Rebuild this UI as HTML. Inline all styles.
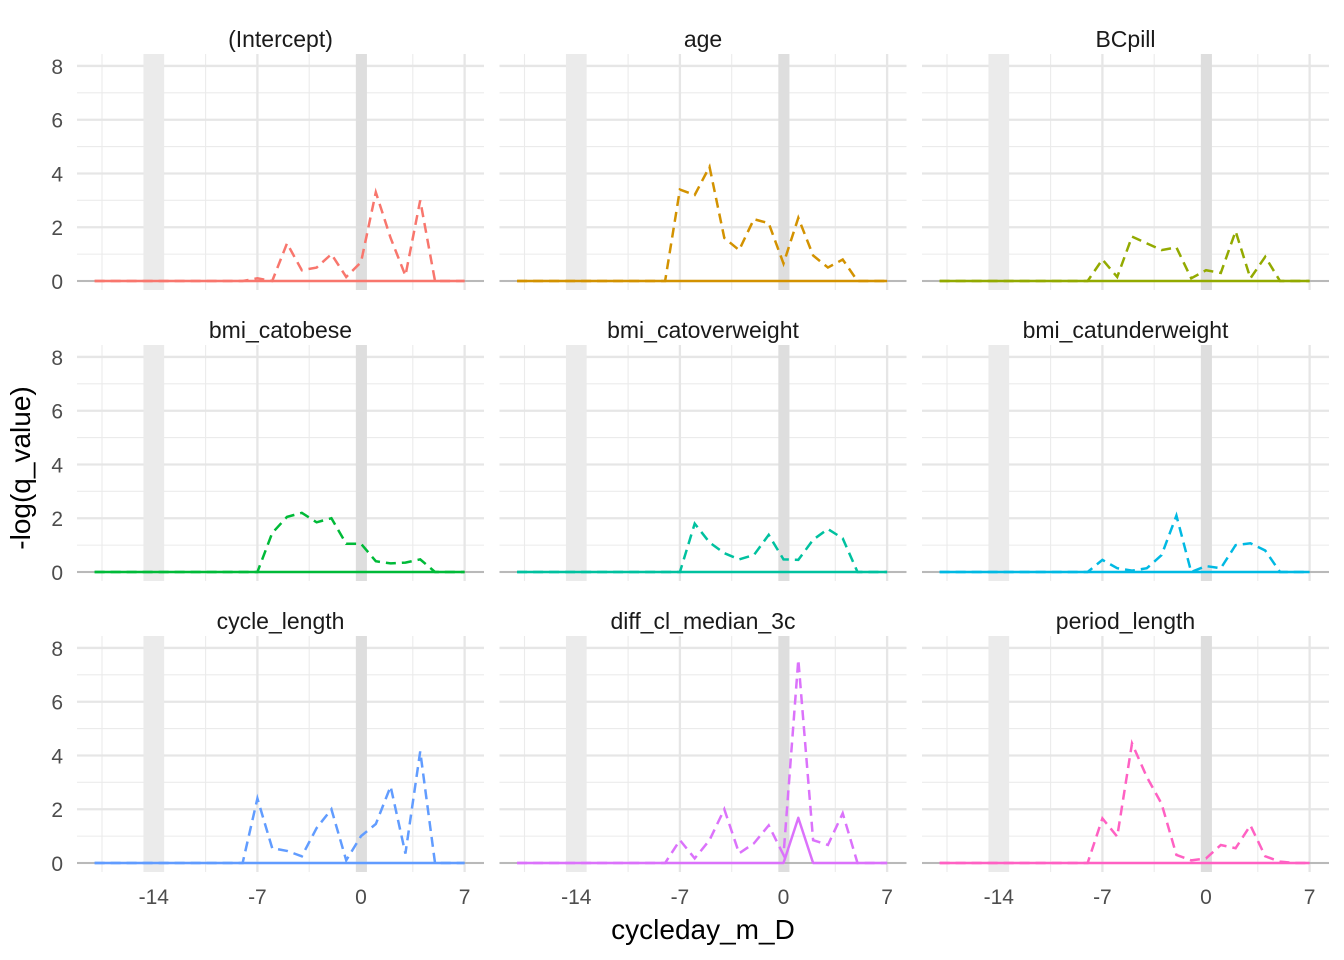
<!DOCTYPE html>
<html><head><meta charset="utf-8"><style>
body{margin:0;background:#fff;}
svg{display:block;font-family:"Liberation Sans",Arial,sans-serif;}
</style></head><body>
<svg id="chart" width="1344" height="960"></svg>
<script>
const days = [-18,-17,-16,-15,-14,-13,-12,-11,-10,-9,-8,-7,-6,-5,-4,-3,-2,-1,0,1,2,3,4,5,6,7];
const panelNames = ["(Intercept)","age","BCpill","bmi_catobese","bmi_catoverweight","bmi_catunderweight","cycle_length","diff_cl_median_3c","period_length"];
const panelColors = ["#F8766D","#D39200","#93AA00","#00BA38","#00C19F","#00B9E3","#619CFF","#DB72FB","#FF61C3"];
// dashed series values from day -8 to day 5 (zeros elsewhere)
const vIntercept = [0,0.1,0,1.4,0.4,0.5,1.0,0.15,0.7,3.3,1.6,0.2,3.0,0];
const vAge = [0,3.4,3.2,4.25,1.6,1.15,2.3,2.15,0.65,2.35,0.95,0.5,0.8,0];
const vBCpill = [0,0.8,0.15,1.65,1.4,1.15,1.25,0.1,0.4,0.3,1.85,0.1,0.9,0];
const vObese = [0,0,1.45,2.05,2.2,1.85,2.0,1.05,1.05,0.4,0.32,0.35,0.47,0];
const vOver = [0,0,1.8,1.1,0.7,0.47,0.63,1.38,0.47,0.45,1.2,1.6,1.25,0];
const vUnder = [0,0.45,0.14,0.05,0.14,0.63,2.1,0,0.22,0.14,1.0,1.07,0.8,0];
const vCycle = [0,2.4,0.55,0.45,0.25,1.3,2.0,0.1,1.0,1.45,2.85,0.35,4.15,0];
const vDiff = [0,0.85,0.17,0.85,2.0,0.36,0.73,1.4,0.3,7.57,0.85,0.67,1.85,0];
const vPeriod = [0,1.66,0.98,4.45,3.2,2.2,0.3,0.1,0.17,0.67,0.55,1.4,0.25,0.05];
const dashedSeries = [vIntercept,vAge,vBCpill,vObese,vOver,vUnder,vCycle,vDiff,vPeriod];
// solid series: nonzero only in diff_cl_median_3c at day 1
const solidDiffDays = [0,1,2];
const solidDiffVals = [0,1.68,0];
const xTicks = [-14,-7,0,7];
const yTicks = [0,2,4,6,8];
const bandLight = [-14.7,-13.3];
const bandDark = [-0.35,0.4];

const NS="http://www.w3.org/2000/svg";
const svg=document.getElementById('chart');
function mk(tag,attrs,parent){const e=document.createElementNS(NS,tag);for(const k in attrs)e.setAttribute(k,attrs[k]);(parent||svg).appendChild(e);return e;}
const colX=[77,499.5,922], pw=407, rowTop=[54,345,636], ph=236;
const xmin=-19.19,xmax=8.31,ymin=-0.335,ymax=8.445;
function fullSeries(v){return days.map(d=>(d>=-8&&d<=5)?v[d+8]:0);}

panelNames.forEach((name,i)=>{
  const c=i%3,r=Math.floor(i/3);
  const x0=colX[c],y0=rowTop[r];
  const sx=d=>x0+(d-xmin)/(xmax-xmin)*pw;
  const sy=v=>y0+ph-(v-ymin)/(ymax-ymin)*ph;
  const g=mk('g',{});
  
  
  for(let yv=1;yv<8;yv+=2){mk('line',{x1:x0,x2:x0+pw,y1:sy(yv),y2:sy(yv),stroke:'#ebebeb','stroke-width':1.1},g);}
  [-17.5,-10.5,-3.5,3.5].forEach(d=>mk('line',{x1:sx(d),x2:sx(d),y1:y0,y2:y0+ph,stroke:'#ebebeb','stroke-width':1.1},g));
  yTicks.forEach(yv=>mk('line',{x1:x0,x2:x0+pw,y1:sy(yv),y2:sy(yv),stroke:'#e6e6e6','stroke-width':2.3},g));
  xTicks.forEach(d=>mk('line',{x1:sx(d),x2:sx(d),y1:y0,y2:y0+ph,stroke:'#e6e6e6','stroke-width':2.3},g));
  const b1=mk('rect',{x:sx(bandLight[0]),y:y0,width:sx(bandLight[1])-sx(bandLight[0]),height:ph,fill:'#ebebeb'},g);
  
  
  const b2=mk('rect',{x:sx(bandDark[0]),y:y0,width:sx(bandDark[1])-sx(bandDark[0]),height:ph,fill:'#dedede'},g);
  
  
  mk('line',{x1:x0,x2:x0+pw,y1:sy(0),y2:sy(0),stroke:'#8c8c8c','stroke-width':1},g);
  let sv=days.map(()=>0);
  if(i===7){solidDiffDays.forEach((d,k)=>{sv[days.indexOf(d)]=solidDiffVals[k];});}
  const sp=mk('polyline',{points:days.map((d,k)=>sx(d)+','+sy(sv[k])).join(' '),fill:'none',stroke:panelColors[i],'stroke-width':2.5,'stroke-linejoin':'round'},g);
  
  
  const dv=fullSeries(dashedSeries[i]);
  const dp=mk('polyline',{points:days.map((d,k)=>sx(d)+','+sy(dv[k])).join(' '),fill:'none',stroke:panelColors[i],'stroke-width':2.5,'stroke-dasharray':'10 6'},g);
  
  
  const t=mk('text',{x:x0+pw/2,y:y0-7,'text-anchor':'middle','font-size':23,fill:'#1a1a1a'},g);
  t.textContent=name;
  
  
  if(c===0){yTicks.forEach(yv=>{const tt=mk('text',{x:63,y:sy(yv)+8,'text-anchor':'end','font-size':21,fill:'#4d4d4d'});tt.textContent=yv;
    
    });}
  if(r===2){xTicks.forEach(d=>{const tt=mk('text',{x:sx(d),y:904,'text-anchor':'middle','font-size':21,fill:'#4d4d4d'});tt.textContent=d;
    
    });}
});
const xt=mk('text',{x:703,y:939,'text-anchor':'middle','font-size':28,fill:'#000'});xt.textContent='cycleday_m_D';


const yt=mk('text',{x:0,y:0,'text-anchor':'middle','font-size':28,fill:'#000',transform:'translate(30,468) rotate(-90)'});yt.textContent='-log(q_value)';


</script>
</body></html>
